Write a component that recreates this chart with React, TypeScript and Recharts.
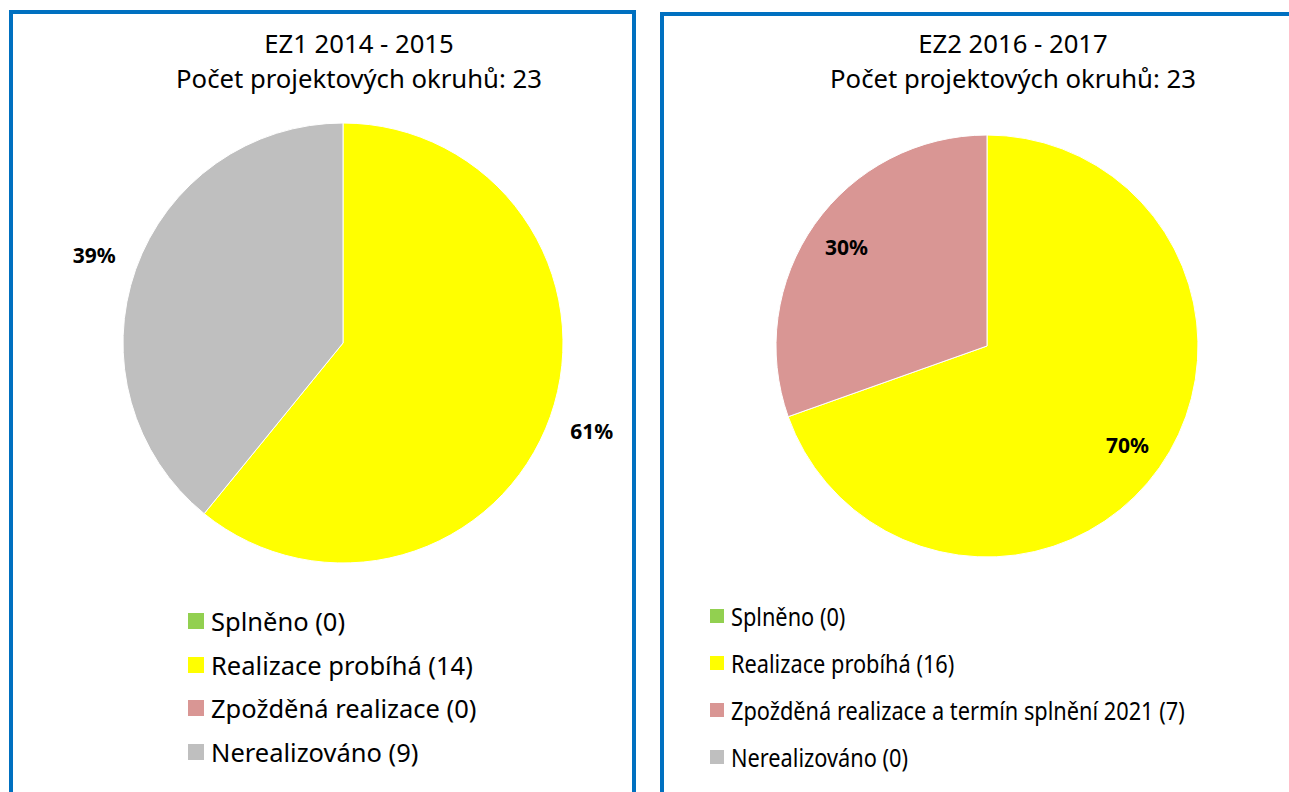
import React from 'react';
import { PieChart, Pie, Cell } from 'recharts';

// status categories shared by both periods
const categories = ['Splněno', 'Realizace probíhá', 'Zpožděná realizace', 'Nerealizováno'];
const categoriesEz2 = ['Splněno', 'Realizace probíhá', 'Zpožděná realizace a termín splnění 2021', 'Nerealizováno'];
const colors = ['#92D050', '#FFFF00', '#D99694', '#BFBFBF'];

// counts of project areas per status
const ez1Values = [0, 14, 0, 9];
const ez2Values = [0, 16, 7, 0];

const ez1Title = ['EZ1 2014 - 2015', 'Počet projektových okruhů: 23'];
const ez2Title = ['EZ2 2016 - 2017', 'Počet projektových okruhů: 23'];

const FONT = '"Noto Sans", "Open Sans", sans-serif';
const RAD = Math.PI / 180;
// recharts keeps a default 5px margin around the plot
const M = 5;

const makeLabel = (dist: number) => (props: any) => {
  const { cx, cy, midAngle, percent, value } = props;
  if (!value) return null;
  const x = cx + dist * Math.cos(-midAngle * RAD);
  const y = cy + dist * Math.sin(-midAngle * RAD);
  return (
    <text x={x} y={y} textAnchor="middle" dominantBaseline="central"
      fontFamily={FONT} fontWeight="bold" fontSize={21} fill="#000">
      {`${Math.round(percent * 100)}%`}
    </text>
  );
};

type PanelProps = {
  left: number; top: number; width: number;
  title: string[]; titleX: number;
  names: string[]; values: number[];
  cx: number; cy: number; r: number; labelDist: number;
  legendX: number; legendY: number; legendGap: number; legendText: number;
  legendScale: number; marker: number;
};

const Panel = (p: PanelProps) => {
  const data = p.names.map((n, i) => ({ name: n, value: p.values[i] }));
  return (
    <>
      <div style={{ position: 'absolute', left: p.left, top: p.top, width: p.width, height: 900,
        border: '4px solid #0070C0', boxSizing: 'border-box' }} />
      <div style={{ position: 'absolute', left: 0, top: 0 }}>
        <PieChart width={1289} height={792}>
          <Pie data={data} dataKey="value" nameKey="name" cx={p.cx - M} cy={p.cy - M}
            outerRadius={p.r} startAngle={90} endAngle={-270}
            stroke="#fff" strokeWidth={1} labelLine={false}
            label={makeLabel(p.labelDist)} isAnimationActive={false}>
            {data.map((d, i) => <Cell key={d.name} fill={colors[i]} />)}
          </Pie>
        </PieChart>
      </div>
      {p.title.map((t, i) => (
        <div key={t} style={{ position: 'absolute', left: p.titleX - 300, width: 600, top: 29 + i * 35,
          textAlign: 'center', fontFamily: FONT, fontSize: 25.7, color: '#000', lineHeight: '30px' }}>{t}</div>
      ))}
      {data.map((d, i) => (
        <div key={d.name} style={{ position: 'absolute', left: p.legendX, top: p.legendY + i * p.legendGap,
          height: 30, display: 'flex', alignItems: 'center', fontFamily: FONT, fontSize: 25, color: '#000',
          whiteSpace: 'nowrap' }}>
          <span style={{ display: 'inline-block', width: p.marker, height: p.marker, background: colors[i] }} />
          <span style={{ marginLeft: p.legendText, display: 'inline-block', transform: `scaleX(${p.legendScale})`,
            transformOrigin: 'left center' }}>{`${d.name} (${d.value})`}</span>
        </div>
      ))}
    </>
  );
};

export default function App() {
  return (
    <div style={{ position: 'fixed', left: 0, top: 0, width: 1289, height: 792, overflow: 'hidden', background: '#fff' }}>
      <Panel left={9} top={10} width={627} title={ez1Title} titleX={359}
        names={categories} values={ez1Values} cx={343} cy={343} r={220} labelDist={264}
        legendX={188} legendY={606} legendGap={43.5} legendText={7} legendScale={1.02} marker={16} />
      <Panel left={660} top={12} width={700} title={ez2Title} titleX={1013}
        names={categoriesEz2} values={ez2Values} cx={987} cy={346} r={211} labelDist={172}
        legendX={710} legendY={601} legendGap={47} legendText={7} legendScale={0.87} marker={14} />
    </div>
  );
}
